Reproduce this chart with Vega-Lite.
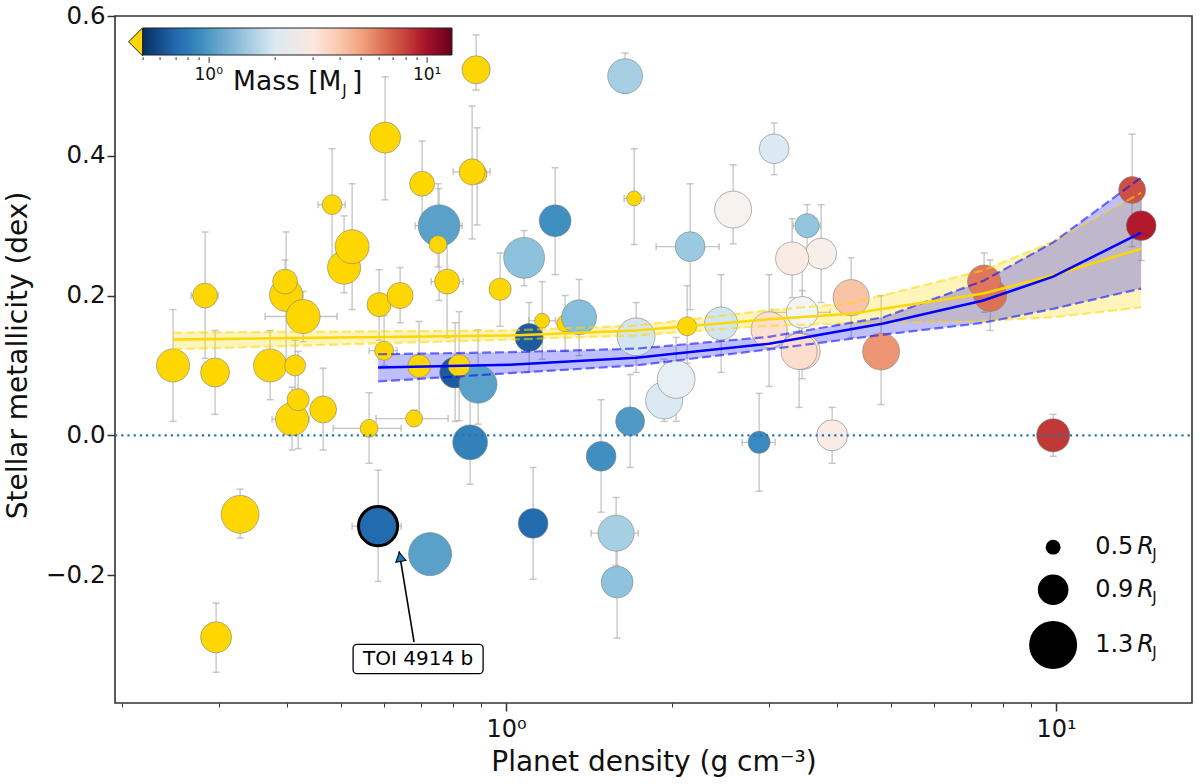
{
  "$schema": "https://vega.github.io/schema/vega-lite/v6.json",
  "width": 1077,
  "height": 687,
  "autosize": {"type": "none"},
  "padding": {"left": 115, "top": 16, "right": 8, "bottom": 81},
  "background": "white",
  "config": {
    "font": "DejaVu Sans",
    "view": {"stroke": "#333333", "strokeWidth": 1.6}
  },
  "datasets": {
    "planets": [
      {"density": 1.2802, "feh": 0.16, "lo": 0.12, "hi": 0.2, "mass": 0.3, "radius": 0.555},
      {"density": 1.6457, "feh": 0.514, "lo": 0.489, "hi": 0.547, "mass": 1.47, "radius": 1.0},
      {"density": 3.0709, "feh": 0.41, "lo": 0.373, "hi": 0.447, "mass": 2.0, "radius": 0.88},
      {"density": 1.2277, "feh": 0.307, "lo": 0.23, "hi": 0.383, "mass": 0.93, "radius": 0.93},
      {"density": 2.5866, "feh": 0.323, "lo": 0.274, "hi": 0.387, "mass": 2.7, "radius": 1.05},
      {"density": 2.1605, "feh": 0.27, "lo": 0.18, "hi": 0.36, "xlo": 1.8739, "xhi": 2.4394, "mass": 1.39, "radius": 0.88},
      {"density": 3.5259, "feh": 0.3, "lo": 0.264, "hi": 0.33, "xlo": 3.3252, "xhi": 3.7232, "mass": 1.33, "radius": 0.74},
      {"density": 3.7386, "feh": 0.26, "lo": 0.19, "hi": 0.33, "mass": 2.8, "radius": 0.91},
      {"density": 3.3112, "feh": 0.253, "lo": 0.197, "hi": 0.31, "mass": 2.9, "radius": 0.96},
      {"density": 4.2392, "feh": 0.197, "lo": 0.14, "hi": 0.254, "mass": 4.1, "radius": 1.03},
      {"density": 1.0783, "feh": 0.254, "lo": 0.214, "hi": 0.293, "mass": 1.3, "radius": 1.14},
      {"density": 0.7554, "feh": 0.3, "lo": 0.193, "hi": 0.353, "xlo": 0.6832, "xhi": 0.8318, "mass": 1.05, "radius": 1.16},
      {"density": 3.4528, "feh": 0.176, "lo": 0.129, "hi": 0.269, "xlo": 3.0454, "xhi": 3.8822, "mass": 2.45, "radius": 0.93},
      {"density": 3.4528, "feh": 0.12, "lo": 0.081, "hi": 0.207, "mass": 3.3, "radius": 1.03},
      {"density": 3.4096, "feh": 0.12, "lo": 0.04, "hi": 0.193, "mass": 3.4, "radius": 1.03},
      {"density": 3.0074, "feh": 0.151, "lo": 0.07, "hi": 0.23, "mass": 3.3, "radius": 1.03},
      {"density": 2.4598, "feh": 0.16, "lo": 0.09, "hi": 0.23, "mass": 1.87, "radius": 0.96},
      {"density": 1.7233, "feh": 0.141, "lo": 0.09, "hi": 0.19, "mass": 1.87, "radius": 1.07},
      {"density": 1.3575, "feh": 0.169, "lo": 0.114, "hi": 0.223, "mass": 1.27, "radius": 1.0},
      {"density": 1.1011, "feh": 0.14, "lo": 0.09, "hi": 0.19, "mass": 0.65, "radius": 0.84},
      {"density": 1.9377, "feh": 0.05, "lo": 0.02, "hi": 0.109, "mass": 2.0, "radius": 1.05},
      {"density": 2.0375, "feh": 0.08, "lo": 0.02, "hi": 0.14, "mass": 2.2, "radius": 1.07},
      {"density": 1.6806, "feh": 0.02, "lo": -0.046, "hi": 0.087, "mass": 1.0, "radius": 0.86},
      {"density": 1.4884, "feh": -0.03, "lo": -0.11, "hi": 0.051, "mass": 0.93, "radius": 0.88},
      {"density": 2.8841, "feh": -0.01, "lo": -0.08, "hi": 0.06, "xlo": 2.6859, "xhi": 3.0838, "mass": 0.9, "radius": 0.69},
      {"density": 3.915, "feh": 0.0, "lo": -0.04, "hi": 0.04, "mass": 2.9, "radius": 0.91},
      {"density": 4.8058, "feh": 0.12, "lo": 0.044, "hi": 0.2, "mass": 5.3, "radius": 1.05},
      {"density": 7.5863, "feh": 0.201, "lo": 0.15, "hi": 0.251, "mass": 6.3, "radius": 0.96},
      {"density": 7.3972, "feh": 0.22, "lo": 0.176, "hi": 0.261, "mass": 6.1, "radius": 0.96},
      {"density": 9.875, "feh": 0.0, "lo": -0.03, "hi": 0.03, "mass": 8.3, "radius": 0.96},
      {"density": 13.746, "feh": 0.351, "lo": 0.27, "hi": 0.431, "mass": 7.4, "radius": 0.81},
      {"density": 14.275, "feh": 0.3, "lo": 0.25, "hi": 0.35, "mass": 9.4, "radius": 0.88},
      {"density": 0.8078, "feh": 0.09, "lo": 0.02, "hi": 0.161, "mass": 0.65, "radius": 0.91},
      {"density": 0.8894, "feh": 0.073, "lo": 0.016, "hi": 0.151, "mass": 1.05, "radius": 1.07},
      {"density": 0.8601, "feh": -0.01, "lo": -0.07, "hi": 0.074, "mass": 0.84, "radius": 1.0},
      {"name": "TOI 4914 b", "density": 0.5851, "feh": -0.13, "lo": -0.209, "hi": -0.05, "xlo": 0.5248, "xhi": 0.6444, "mass": 0.72, "radius": 1.1},
      {"density": 0.7274, "feh": -0.17, "lo": -0.19, "hi": -0.15, "mass": 1.05, "radius": 1.19},
      {"density": 1.1197, "feh": -0.126, "lo": -0.206, "hi": -0.046, "mass": 0.72, "radius": 0.88},
      {"density": 1.5915, "feh": -0.21, "lo": -0.29, "hi": -0.164, "mass": 1.31, "radius": 0.93},
      {"density": 1.5849, "feh": -0.14, "lo": -0.186, "hi": -0.089, "xlo": 1.4274, "xhi": 1.7378, "mass": 1.47, "radius": 1.03},
      {"density": 0.882, "feh": 0.523, "lo": 0.494, "hi": 0.573, "mass": 0.3, "radius": 0.84},
      {"density": 0.6026, "feh": 0.426, "lo": 0.337, "hi": 0.513, "mass": 0.3, "radius": 0.91},
      {"density": 0.4826, "feh": 0.33, "lo": 0.25, "hi": 0.41, "xlo": 0.4552, "xhi": 0.5097, "mass": 0.3, "radius": 0.63},
      {"density": 0.5075, "feh": 0.24, "lo": 0.204, "hi": 0.314, "mass": 0.3, "radius": 0.96},
      {"density": 0.5248, "feh": 0.27, "lo": 0.18, "hi": 0.36, "mass": 0.3, "radius": 0.98},
      {"density": 0.7035, "feh": 0.36, "lo": 0.299, "hi": 0.421, "mass": 0.3, "radius": 0.76},
      {"density": 0.8857, "feh": 0.374, "lo": 0.301, "hi": 0.44, "mass": 0.3, "radius": 0.63},
      {"density": 0.8674, "feh": 0.377, "lo": 0.281, "hi": 0.471, "xlo": 0.801, "xhi": 0.9352, "mass": 0.3, "radius": 0.79},
      {"density": 0.7522, "feh": 0.273, "lo": 0.241, "hi": 0.36, "mass": 0.3, "radius": 0.58},
      {"density": 0.7811, "feh": 0.22, "lo": 0.14, "hi": 0.293, "xlo": 0.7305, "xhi": 0.8353, "mass": 0.3, "radius": 0.76},
      {"density": 0.9752, "feh": 0.209, "lo": 0.156, "hi": 0.261, "mass": 0.3, "radius": 0.69},
      {"density": 0.2836, "feh": 0.2, "lo": 0.11, "hi": 0.291, "xlo": 0.2675, "xhi": 0.2995, "mass": 0.3, "radius": 0.76},
      {"density": 0.248, "feh": 0.1, "lo": 0.02, "hi": 0.18, "mass": 0.3, "radius": 0.96},
      {"density": 0.2957, "feh": 0.09, "lo": 0.03, "hi": 0.15, "mass": 0.3, "radius": 0.86},
      {"density": 0.3723, "feh": 0.1, "lo": 0.051, "hi": 0.15, "mass": 0.3, "radius": 0.96},
      {"density": 0.4134, "feh": 0.1, "lo": 0.064, "hi": 0.136, "mass": 0.3, "radius": 0.66},
      {"density": 0.4082, "feh": 0.023, "lo": -0.021, "hi": 0.069, "xlo": 0.3754, "xhi": 0.4384, "mass": 0.3, "radius": 0.96},
      {"density": 0.4186, "feh": 0.051, "lo": -0.019, "hi": 0.12, "mass": 0.3, "radius": 0.69},
      {"density": 0.4648, "feh": 0.037, "lo": -0.021, "hi": 0.096, "mass": 0.3, "radius": 0.81},
      {"density": 0.3981, "feh": 0.201, "lo": 0.107, "hi": 0.291, "mass": 0.3, "radius": 0.96},
      {"density": 0.3964, "feh": 0.22, "lo": 0.193, "hi": 0.251, "mass": 0.3, "radius": 0.76},
      {"density": 0.4275, "feh": 0.17, "lo": 0.134, "hi": 0.206, "xlo": 0.3646, "xhi": 0.4929, "mass": 0.3, "radius": 0.98},
      {"density": 0.5876, "feh": 0.187, "lo": 0.136, "hi": 0.237, "mass": 0.3, "radius": 0.74},
      {"density": 0.6416, "feh": 0.2, "lo": 0.161, "hi": 0.24, "mass": 0.3, "radius": 0.79},
      {"density": 0.6, "feh": 0.121, "lo": 0.1, "hi": 0.171, "xlo": 0.5635, "xhi": 0.6336, "mass": 0.3, "radius": 0.61},
      {"density": 0.6947, "feh": 0.099, "lo": 0.026, "hi": 0.163, "mass": 0.3, "radius": 0.71},
      {"density": 0.6803, "feh": 0.024, "lo": 0.013, "hi": 0.036, "xlo": 0.5803, "xhi": 0.7844, "mass": 0.3, "radius": 0.555},
      {"density": 0.5635, "feh": 0.01, "lo": -0.04, "hi": 0.061, "xlo": 0.4847, "xhi": 0.6444, "mass": 0.3, "radius": 0.58},
      {"density": 0.8214, "feh": 0.1, "lo": 0.021, "hi": 0.177, "mass": 0.3, "radius": 0.69},
      {"density": 0.3284, "feh": -0.113, "lo": -0.147, "hi": -0.077, "mass": 0.3, "radius": 1.07},
      {"density": 0.297, "feh": -0.289, "lo": -0.339, "hi": -0.24, "mass": 0.3, "radius": 0.91},
      {"density": 1.1627, "feh": 0.164, "lo": 0.109, "hi": 0.22, "xlo": 1.1, "xhi": 1.23, "mass": 0.3, "radius": 0.5},
      {"density": 2.1336, "feh": 0.156, "lo": 0.103, "hi": 0.214, "mass": 0.3, "radius": 0.61},
      {"density": 1.709, "feh": 0.339, "lo": 0.273, "hi": 0.41, "xlo": 1.6389, "xhi": 1.7819, "mass": 0.3, "radius": 0.5}
    ],
    "trends": [
      {"group": "gold", "density": 0.248, "feh": 0.137, "lo": 0.123, "hi": 0.147},
      {"group": "gold", "density": 1.017, "feh": 0.143, "lo": 0.137, "hi": 0.15},
      {"group": "gold", "density": 1.723, "feh": 0.15, "lo": 0.143, "hi": 0.157},
      {"group": "gold", "density": 3.007, "feh": 0.166, "lo": 0.157, "hi": 0.179},
      {"group": "gold", "density": 4.239, "feh": 0.174, "lo": 0.16, "hi": 0.189},
      {"group": "gold", "density": 7.37, "feh": 0.203, "lo": 0.164, "hi": 0.236},
      {"group": "gold", "density": 9.875, "feh": 0.229, "lo": 0.169, "hi": 0.277},
      {"group": "gold", "density": 14.275, "feh": 0.267, "lo": 0.183, "hi": 0.347},
      {"group": "blue", "density": 0.5851, "feh": 0.097, "lo": 0.077, "hi": 0.116},
      {"group": "blue", "density": 1.017, "feh": 0.101, "lo": 0.089, "hi": 0.119},
      {"group": "blue", "density": 1.723, "feh": 0.111, "lo": 0.1, "hi": 0.124},
      {"group": "blue", "density": 3.007, "feh": 0.131, "lo": 0.123, "hi": 0.141},
      {"group": "blue", "density": 4.85, "feh": 0.16, "lo": 0.144, "hi": 0.169},
      {"group": "blue", "density": 7.37, "feh": 0.193, "lo": 0.161, "hi": 0.221},
      {"group": "blue", "density": 9.875, "feh": 0.227, "lo": 0.181, "hi": 0.276},
      {"group": "blue", "density": 14.275, "feh": 0.29, "lo": 0.21, "hi": 0.369}
    ],
    "barTicks": [
      {"density": 0.2188, "feh": 0.541, "feh2": 0.537},
      {"density": 0.2349, "feh": 0.541, "feh2": 0.537},
      {"density": 0.2512, "feh": 0.541, "feh2": 0.537},
      {"density": 0.2641, "feh": 0.541, "feh2": 0.537},
      {"density": 0.2766, "feh": 0.541, "feh2": 0.537},
      {"density": 0.2884, "feh": 0.541, "feh2": 0.533},
      {"density": 0.3802, "feh": 0.541, "feh2": 0.537},
      {"density": 0.4457, "feh": 0.541, "feh2": 0.537},
      {"density": 0.4991, "feh": 0.541, "feh2": 0.537},
      {"density": 0.5449, "feh": 0.541, "feh2": 0.537},
      {"density": 0.5876, "feh": 0.541, "feh2": 0.537},
      {"density": 0.6231, "feh": 0.541, "feh2": 0.537},
      {"density": 0.6579, "feh": 0.541, "feh2": 0.537},
      {"density": 0.6889, "feh": 0.541, "feh2": 0.537},
      {"density": 0.7184, "feh": 0.541, "feh2": 0.533}
    ],
    "sizeKey": [
      {"density": 9.875, "feh": -0.16, "radius": 0.5, "label": "0.5", "rx": 14.04, "jx": 14.95},
      {"density": 9.875, "feh": -0.221, "radius": 0.9, "label": "0.9", "rx": 14.04, "jx": 14.95},
      {"density": 9.875, "feh": -0.3, "radius": 1.3, "label": "1.3", "rx": 14.04, "jx": 14.95}
    ]
  },
  "encoding": {
    "x": {
      "field": "density",
      "type": "quantitative",
      "scale": {"type": "log", "domain": [0.1945, 17.66], "nice": false},
      "axis": {
        "title": "Planet density (g cm⁻³)",
        "titleFontSize": 28,
        "titleFontWeight": "normal",
        "titleColor": "#111111",
        "titlePadding": 7,
        "values": [0.2, 0.3, 0.4, 0.5, 0.6, 0.7, 0.8, 0.9, 1, 2, 3, 4, 5, 6, 7, 8, 9, 10],
        "labelExpr": "datum.value == 1 ? '10⁰' : datum.value == 10 ? '10¹' : ''",
        "labelFontSize": 24,
        "labelColor": "#111111",
        "labelOverlap": false,
        "labelPadding": 6,
        "domain": false,
        "grid": false,
        "tickColor": "#333333",
        "tickSize": {"condition": {"test": "datum.value == 1 || datum.value == 10", "value": 8}, "value": 4},
        "tickWidth": {"condition": {"test": "datum.value == 1 || datum.value == 10", "value": 1.5}, "value": 1}
      }
    },
    "y": {
      "field": "feh",
      "type": "quantitative",
      "scale": {"domain": [-0.383, 0.6], "nice": false, "zero": false},
      "axis": {
        "title": "Stellar metallicity (dex)",
        "titleFontSize": 28,
        "titleFontWeight": "normal",
        "titleColor": "#111111",
        "titlePadding": 13,
        "titleY": 339,
        "values": [-0.2, 0, 0.2, 0.4, 0.6],
        "format": ".1f",
        "labelFontSize": 24.5,
        "labelColor": "#111111",
        "domain": false,
        "grid": false,
        "tickColor": "#333333",
        "tickSize": 8,
        "tickWidth": 1.5
      }
    }
  },
  "layer": [
    {
      "data": {"name": "planets"},
      "mark": {"type": "rule", "color": "#c4c4c4", "strokeWidth": 1.3},
      "encoding": {
        "y": {"field": "lo", "type": "quantitative"},
        "y2": {"field": "hi"}
      }
    },
    {
      "data": {"name": "planets"},
      "transform": [{"filter": "isValid(datum.xlo)"}],
      "mark": {"type": "rule", "color": "#c4c4c4", "strokeWidth": 1.3},
      "encoding": {
        "x": {"field": "xlo", "type": "quantitative"},
        "x2": {"field": "xhi"}
      }
    },
    {
      "data": {"name": "planets"},
      "mark": {"type": "tick", "orient": "horizontal", "color": "#b0b0b0", "size": 7, "thickness": 1.5},
      "encoding": {"y": {"field": "lo", "type": "quantitative"}}
    },
    {
      "data": {"name": "planets"},
      "mark": {"type": "tick", "orient": "horizontal", "color": "#b0b0b0", "size": 7, "thickness": 1.5},
      "encoding": {"y": {"field": "hi", "type": "quantitative"}}
    },
    {
      "data": {"name": "planets"},
      "transform": [{"filter": "isValid(datum.xlo)"}],
      "mark": {"type": "tick", "orient": "vertical", "color": "#b0b0b0", "size": 7, "thickness": 1.5},
      "encoding": {"x": {"field": "xlo", "type": "quantitative"}}
    },
    {
      "data": {"name": "planets"},
      "transform": [{"filter": "isValid(datum.xlo)"}],
      "mark": {"type": "tick", "orient": "vertical", "color": "#b0b0b0", "size": 7, "thickness": 1.5},
      "encoding": {"x": {"field": "xhi", "type": "quantitative"}}
    },
    {
      "data": {"name": "trends"},
      "transform": [{"filter": "datum.group == 'gold'"}],
      "mark": {"type": "area", "color": "#ffd700", "opacity": 0.27},
      "encoding": {
        "y": {"field": "lo", "type": "quantitative"},
        "y2": {"field": "hi"}
      }
    },
    {
      "data": {"name": "trends"},
      "transform": [{"filter": "datum.group == 'blue'"}],
      "mark": {"type": "area", "color": "#0000ff", "opacity": 0.25},
      "encoding": {
        "y": {"field": "lo", "type": "quantitative"},
        "y2": {"field": "hi"}
      }
    },
    {
      "data": {"name": "planets"},
      "mark": {"type": "circle", "opacity": 1},
      "encoding": {
        "size": {
          "field": "radius",
          "type": "quantitative",
          "scale": {"type": "pow", "exponent": 2.45, "domain": [0, 1.3], "range": [0, 2304]},
          "legend": null
        },
        "color": {
          "condition": {"test": "datum.mass < 0.5", "value": "#ffd700"},
          "field": "mass",
          "type": "quantitative",
          "scale": {
            "type": "log",
            "domain": [0.5, 0.6926, 0.9594, 1.329, 1.841, 2.55, 3.532, 4.893, 6.777, 9.388, 13],
            "range": ["#053061", "#2166ac", "#4393c3", "#92c5de", "#d1e5f0", "#f7f7f7", "#fddbc7", "#f4a582", "#d6604d", "#b2182b", "#67001f"]
          },
          "legend": {
            "orient": "none",
            "legendX": 28,
            "legendY": 12,
            "direction": "horizontal",
            "title": null,
            "gradientLength": 309,
            "gradientThickness": 27,
            "gradientStrokeColor": "#222222",
            "gradientStrokeWidth": 1,
            "values": [1, 10],
            "labelExpr": "datum.value == 1 ? '10⁰' : '10¹'",
            "labelFontSize": 17,
            "labelColor": "#111111",
            "labelOffset": 12
          }
        },
        "stroke": {
          "condition": {"test": "datum.name == 'TOI 4914 b'", "value": "#000000"},
          "value": "#808080"
        },
        "strokeWidth": {
          "condition": {"test": "datum.name == 'TOI 4914 b'", "value": 3},
          "value": 0.6
        }
      }
    },
    {
      "data": {"name": "trends"},
      "transform": [{"filter": "datum.group == 'gold'"}],
      "mark": {"type": "line", "color": "#ffd700", "opacity": 0.55, "strokeWidth": 2.2, "strokeDash": [9, 4]},
      "encoding": {"y": {"field": "lo", "type": "quantitative"}}
    },
    {
      "data": {"name": "trends"},
      "transform": [{"filter": "datum.group == 'gold'"}],
      "mark": {"type": "line", "color": "#ffd700", "opacity": 0.55, "strokeWidth": 2.2, "strokeDash": [9, 4]},
      "encoding": {"y": {"field": "hi", "type": "quantitative"}}
    },
    {
      "data": {"name": "trends"},
      "transform": [{"filter": "datum.group == 'blue'"}],
      "mark": {"type": "line", "color": "#0000ff", "opacity": 0.55, "strokeWidth": 2.2, "strokeDash": [9, 4]},
      "encoding": {"y": {"field": "lo", "type": "quantitative"}}
    },
    {
      "data": {"name": "trends"},
      "transform": [{"filter": "datum.group == 'blue'"}],
      "mark": {"type": "line", "color": "#0000ff", "opacity": 0.55, "strokeWidth": 2.2, "strokeDash": [9, 4]},
      "encoding": {"y": {"field": "hi", "type": "quantitative"}}
    },
    {
      "data": {"name": "trends"},
      "transform": [{"filter": "datum.group == 'gold'"}],
      "mark": {"type": "line", "color": "#ffd700", "strokeWidth": 2.5}
    },
    {
      "data": {"name": "trends"},
      "transform": [{"filter": "datum.group == 'blue'"}],
      "mark": {"type": "line", "color": "#0000ff", "strokeWidth": 2.5}
    },
    {
      "data": {"values": [{"feh": 0}]},
      "mark": {"type": "rule", "color": "#1f77b4", "strokeWidth": 2.2, "strokeDash": [2.2, 4]},
      "encoding": {"x": {"value": 0}, "x2": {"value": 1077}}
    },
    {
      "data": {"values": [{"density": 0.6803, "feh": -0.296, "density2": 0.6389, "feh2": -0.166}]},
      "mark": {"type": "rule", "color": "#000000", "strokeWidth": 1.6},
      "encoding": {
        "x2": {"field": "density2"},
        "y2": {"field": "feh2"}
      }
    },
    {
      "data": {"values": [{"density": 0.6416, "feh": -0.174}]},
      "mark": {"type": "point", "shape": "triangle-up", "filled": true, "fill": "#1f77b4", "stroke": "#000000", "strokeWidth": 1, "opacity": 1, "size": 110, "angle": -10}
    },
    {
      "data": {"values": [{"density": 0.527, "feh": -0.299, "density2": 0.9082, "feh2": -0.341}]},
      "mark": {"type": "rect", "fill": "#ffffff", "stroke": "#000000", "strokeWidth": 1.3, "cornerRadius": 4},
      "encoding": {
        "x2": {"field": "density2"},
        "y2": {"field": "feh2"}
      }
    },
    {
      "data": {"values": [{"density": 0.6918, "feh": -0.32, "label": "TOI 4914 b"}]},
      "mark": {"type": "text", "fontSize": 20, "color": "#000000", "baseline": "middle"},
      "encoding": {"text": {"field": "label"}}
    },
    {
      "data": {"name": "sizeKey"},
      "mark": {"type": "circle", "color": "#000000", "opacity": 1},
      "encoding": {"size": {"field": "radius", "type": "quantitative"}}
    },
    {
      "data": {"name": "sizeKey"},
      "mark": {"type": "text", "fontSize": 24, "align": "left", "baseline": "middle", "color": "#111111", "dx": 42},
      "encoding": {"text": {"field": "label"}}
    },
    {
      "data": {"name": "sizeKey"},
      "mark": {"type": "text", "fontSize": 24, "align": "left", "baseline": "middle", "fontStyle": "italic", "color": "#111111", "text": "R"},
      "encoding": {"x": {"field": "rx", "type": "quantitative"}}
    },
    {
      "data": {"name": "sizeKey"},
      "mark": {"type": "text", "fontSize": 15, "align": "left", "baseline": "middle", "color": "#111111", "dy": 8, "text": "J"},
      "encoding": {"x": {"field": "jx", "type": "quantitative"}}
    },
    {
      "data": {"values": [{"density": 0.212, "feh": 0.563}]},
      "mark": {"type": "point", "shape": "M0.5 -1 L-0.5 0 L0.5 1 Z", "filled": true, "fill": "#ffd700", "stroke": "#222222", "strokeWidth": 1, "opacity": 1, "size": 784}
    },
    {
      "data": {"name": "barTicks"},
      "mark": {"type": "rule", "color": "#333333", "strokeWidth": 1},
      "encoding": {"y2": {"field": "feh2"}}
    },
    {
      "data": {"values": [{"density": 0.3189, "feh": 0.506}]},
      "mark": {"type": "text", "fontSize": 26.5, "align": "left", "baseline": "middle", "color": "#111111", "text": "Mass [M"}
    },
    {
      "data": {"values": [{"density": 0.5036, "feh": 0.492}]},
      "mark": {"type": "text", "fontSize": 15, "align": "left", "baseline": "middle", "color": "#111111", "text": "J"}
    },
    {
      "data": {"values": [{"density": 0.5248, "feh": 0.506}]},
      "mark": {"type": "text", "fontSize": 26.5, "align": "left", "baseline": "middle", "color": "#111111", "text": "]"}
    }
  ]
}
